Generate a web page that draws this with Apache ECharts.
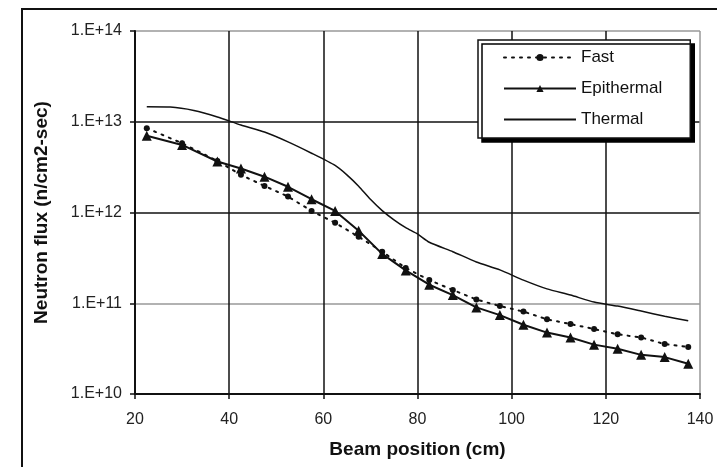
<!DOCTYPE html>
<html>
<head>
<meta charset="utf-8">
<script src="https://cdn.jsdelivr.net/npm/echarts@6/dist/echarts.min.js"></script>
<style>
  html, body { margin: 0; padding: 0; background: #fff; }
  #main { width: 717px; height: 467px; }
</style>
</head>
<body>
<div id="main"></div>
<script>
// beam positions (cm)
var markerPos = [22.5, 30, 37.5, 42.5, 47.5, 52.5, 57.5, 62.5, 67.5, 72.5, 77.5, 82.5, 87.5,
  92.5, 97.5, 102.5, 107.5, 112.5, 117.5, 122.5, 127.5, 132.5, 137.5];
var fastFlux = [8.5e12, 5.8e12, 3.7e12, 2.6e12, 1.96e12, 1.5e12, 1.04e12, 7.7e11, 5.4e11, 3.7e11,
  2.45e11, 1.8e11, 1.4e11, 1.1e11, 9.3e10, 8.1e10, 6.65e10, 5.9e10, 5.2e10, 4.55e10, 4.2e10, 3.55e10, 3.3e10];
var epiFlux = [7.0e12, 5.55e12, 3.65e12, 3.05e12, 2.48e12, 1.92e12, 1.4e12, 1.04e12, 6.3e11, 3.5e11,
  2.3e11, 1.6e11, 1.23e11, 9.0e10, 7.4e10, 5.8e10, 4.75e10, 4.2e10, 3.5e10, 3.15e10, 2.7e10, 2.55e10, 2.15e10];

var thermalPos = [22.5, 27.5, 32.5, 37.5, 42.5, 47.5, 52.5, 57.5, 62.5, 65, 67.5, 70, 72.5, 75, 77.5,
  80, 82.5, 87.5, 92.5, 97.5, 102.5, 107.5, 112.5, 117.5, 122.5, 127.5, 132.5, 137.5];
var thermalFlux = [1.46e13, 1.45e13, 1.33e13, 1.13e13, 9.2e12, 7.7e12, 6.0e12, 4.5e12, 3.3e12, 2.6e12,
  1.95e12, 1.4e12, 1.05e12, 8.3e11, 6.8e11, 5.8e11, 4.7e11, 3.7e11, 2.85e11, 2.33e11, 1.8e11, 1.44e11,
  1.23e11, 1.03e11, 9.3e10, 8.2e10, 7.2e10, 6.4e10];

var xTicks = [20, 40, 60, 80, 100, 120, 140];

function pairs(xs, ys) {
  return xs.map(function (x, i) { return [x, ys[i]]; });
}

var chart = echarts.init(document.getElementById('main'));
chart.setOption({
  animation: false,
  textStyle: { fontFamily: 'Liberation Sans, Arial, sans-serif' },
  graphic: [{
    type: 'rect',
    shape: { x: 22, y: 9, width: 740, height: 500 },
    style: { fill: 'none', stroke: '#111', lineWidth: 2 },
    z: -1
  }],
  grid: { left: 135, top: 31, right: 17, bottom: 73 },
  legend: {
    data: [
      { name: 'Fast' },
      { name: 'Epithermal' },
      { name: 'Thermal', itemStyle: { opacity: 0 } }
    ],
    orient: 'vertical',
    left: 478, top: 40,
    padding: [9, 28, 10, 25],
    itemWidth: 72, itemHeight: 9, itemGap: 14,
    backgroundColor: '#fff',
    borderColor: '#111', borderWidth: 1.5,
    shadowColor: '#000', shadowBlur: 0, shadowOffsetX: 4, shadowOffsetY: 4,
    textStyle: { fontSize: 17, color: '#111' }
  },
  xAxis: {
    type: 'value',
    min: 20, max: 140, interval: 20,
    name: 'Beam position (cm)',
    nameLocation: 'middle', nameGap: 46,
    nameTextStyle: { fontSize: 19, fontWeight: 'bold', color: '#111' },
    axisLine: { lineStyle: { color: '#111', width: 2 } },
    axisTick: { show: true, inside: false, length: 5, lineStyle: { color: '#111', width: 1.5 } },
    axisLabel: { fontSize: 16, color: '#222', margin: 18,
      formatter: function (v) { return xTicks.indexOf(v) >= 0 ? String(v) : ''; } },
    splitLine: { show: true, lineStyle: { color: ['#111', '#111', '#111', '#111', '#111', '#111', '#999'], width: 1.5 } }
  },
  yAxis: {
    type: 'log', logBase: 10,
    min: 1e10, max: 1e14, interval: 1,
    name: 'Neutron flux (n/cm2-sec)',
    nameLocation: 'middle', nameGap: 84,
    nameTextStyle: { fontSize: 19, fontWeight: 'bold', color: '#111' },
    axisLine: { show: true, lineStyle: { color: '#111', width: 2 } },
    axisTick: { show: true, inside: false, length: 5, lineStyle: { color: '#111', width: 1.5 } },
    axisLabel: { fontSize: 16, color: '#222', margin: 13,
      formatter: function (v) { return '1.E+' + Math.round(Math.log10(v)); } },
    splitLine: { show: true, lineStyle: { color: ['#111', '#999', '#111', '#111', '#999'], width: 1.5 } }
  },
  series: [
    {
      name: 'Fast', type: 'line',
      data: pairs(markerPos, fastFlux),
      symbol: 'circle', symbolSize: 6,
      itemStyle: { color: '#111' },
      lineStyle: { color: '#111', width: 2, type: [2, 6], cap: 'round' }
    },
    {
      name: 'Epithermal', type: 'line',
      data: pairs(markerPos, epiFlux),
      symbol: 'triangle', symbolSize: 10,
      itemStyle: { color: '#111' },
      lineStyle: { color: '#111', width: 2 }
    },
    {
      name: 'Thermal', type: 'line',
      data: pairs(thermalPos, thermalFlux),
      symbol: 'none', smooth: 0.2,
      itemStyle: { color: '#111' },
      lineStyle: { color: '#111', width: 1.5 }
    }
  ]
});
</script>
</body>
</html>
